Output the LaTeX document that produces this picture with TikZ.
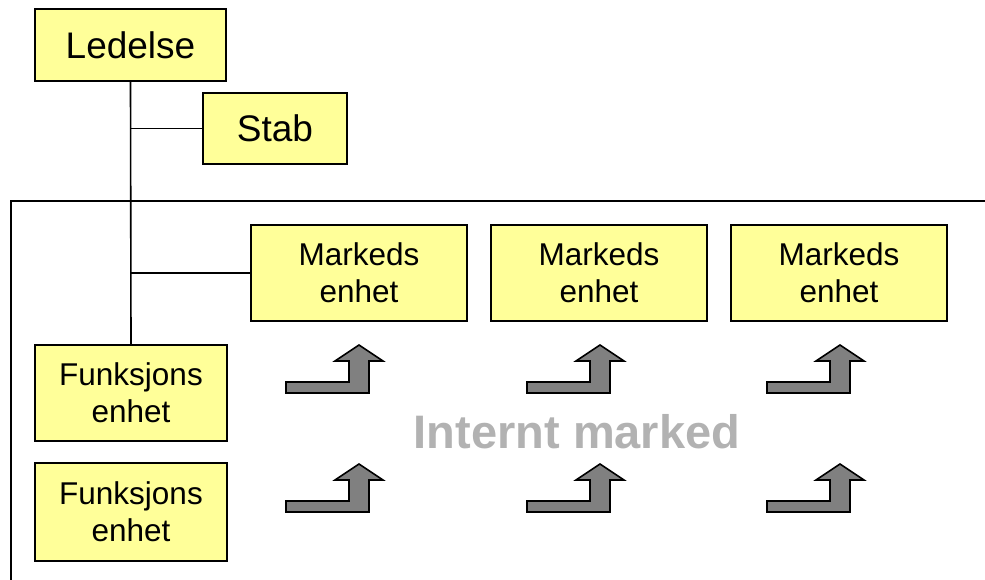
\documentclass[tikz,border=0pt]{standalone}
\usepackage{fontspec}
\setmainfont{Liberation Sans}
\begin{document}
\begin{tikzpicture}[x=1pt,y=-1pt,
  box/.style={draw=black,line width=1.6pt,fill=boxyellow,inner sep=0pt,align=center},
  bigbox/.style={box,font=\fontsize{37}{42}\selectfont},
  smallbox/.style={box,font=\fontsize{31.5}{37}\selectfont},
  conn/.style={draw=black,line width=1.6pt},
  pics/bentarrow/.style={code={
    \draw[fill=arrowgray,line width=1.6pt,line join=miter]
      (0,37) -- (63,37) -- (63,16) -- (49,16) -- (73,0) -- (97,16) -- (83,16) -- (83,48) -- (0,48) -- cycle;
  }}]
\definecolor{boxyellow}{HTML}{FFFF99}
\definecolor{arrowgray}{HTML}{808080}
\definecolor{textgray}{HTML}{B2B2B2}
\useasboundingbox (0,0) rectangle (985,580);
% frame
\draw[line width=1.6pt] (11,582) -- (11,201) -- (987,201);
% boxes
\node[bigbox,minimum width=191pt,minimum height=72pt] (L) at (130.5,45) {Ledelse};
\node[bigbox,minimum width=144pt,minimum height=71pt] (S) at (275,128.5) {Stab};
\node[smallbox,minimum width=216pt,minimum height=96pt] (M1) at (359,273) {Markeds\\enhet};
\node[smallbox,minimum width=216pt,minimum height=96pt] (M2) at (599,273) {Markeds\\enhet};
\node[smallbox,minimum width=216pt,minimum height=96pt] (M3) at (839,273) {Markeds\\enhet};
\node[smallbox,minimum width=192pt,minimum height=96pt] (F1) at (131,393) {Funksjons\\enhet};
\node[smallbox,minimum width=192pt,minimum height=98pt] (F2) at (131,512) {Funksjons\\enhet};
% connectors
\draw[conn] (L.south) -- (F1.north);
\draw[conn] (L.south |- S.west) -- (S.west);
\draw[conn] (L.south |- M1.west) -- (M1.west);
% arrows
\foreach \x in {286,527,767}{
  \pic at (\x,345) {bentarrow};
  \pic at (\x,464) {bentarrow};
}
% label
\node[text=textgray,font=\fontsize{47}{52}\selectfont\bfseries] (IM) at (577,432) {Internt marked};
\end{tikzpicture}
\end{document}
